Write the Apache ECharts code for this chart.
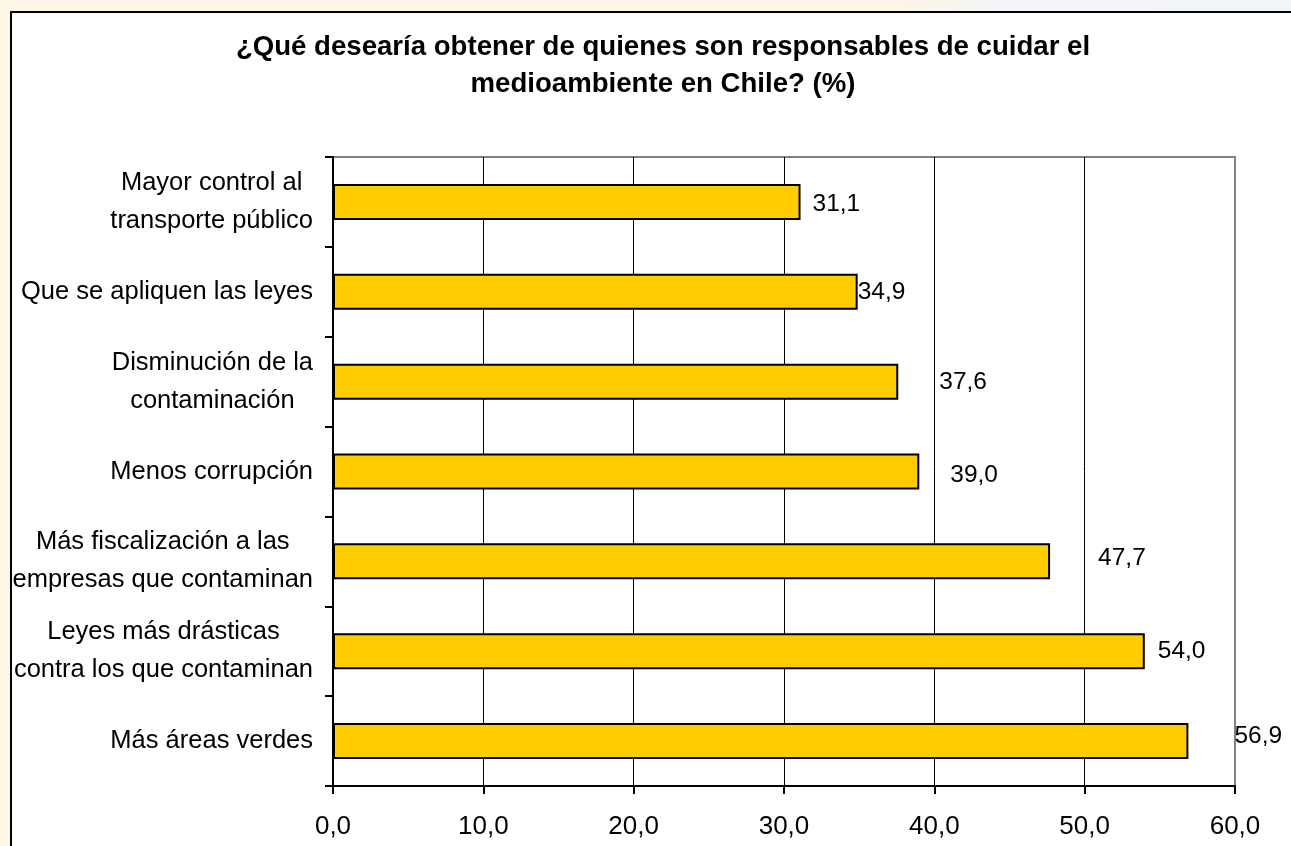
<!DOCTYPE html>
<html>
<head>
<meta charset="utf-8">
<title>Medioambiente Chile</title>
<script src="https://cdn.jsdelivr.net/npm/echarts@6/dist/echarts.min.js"></script>
<style>
  html, body { margin: 0; padding: 0; }
  #main { width: 1291px; height: 846px; }
</style>
</head>
<body>
<div id="main"></div>
<script>
// datos del gráfico
var categories = [
  "Mayor control al\ntransporte público",
  "Que se apliquen las leyes",
  "Disminución de la\ncontaminación",
  "Menos corrupción",
  "Más fiscalización a las\nempresas que contaminan",
  "Leyes más drásticas\ncontra los que contaminan",
  "Más áreas verdes"
];
var values = [31.1, 34.9, 37.6, 39.0, 47.7, 54.0, 56.9];
var xTicks = [0, 10, 20, 30, 40, 50, 60];

// desplazamiento de las etiquetas (como en el original, no son uniformes)
var labelNudge = [[12, 2], [0, 0], [41, 1], [31, 4], [48, -3], [13, 0], [46, -5]];

var font = "'Liberation Sans', Arial, sans-serif";

function coma(v) {
  return v.toFixed(1).replace(".", ",");
}

var chart = echarts.init(document.getElementById("main"));

var barData = values.map(function (v, i) {
  return {
    value: v,
    label: { offset: labelNudge[i] }
  };
});

var option = {
  backgroundColor: {
    type: "linear", x: 0, y: 0, x2: 1, y2: 0,
    colorStops: [
      { offset: 0, color: "#fdf5e6" },
      { offset: 0.7, color: "#fdf5e6" },
      { offset: 0.78, color: "#f3f5fa" },
      { offset: 1, color: "#f1f4f9" }
    ]
  },
  animation: false,
  graphic: [
    {
      type: "rect",
      z: -10,
      shape: { x: 11, y: 12, width: 1400, height: 900 },
      style: { fill: "#ffffff", stroke: "#000000", lineWidth: 2 }
    }
  ],
  title: {
    text: "¿Qué desearía obtener de quienes son responsables de cuidar el\nmedioambiente en Chile? (%)",
    left: 658,
    top: 24,
    textAlign: "center",
    textStyle: {
      fontFamily: font,
      fontSize: 27.6,
      fontWeight: "bold",
      color: "#000000",
      lineHeight: 37
    }
  },
  grid: {
    left: 333,
    top: 157,
    width: 902,
    height: 629,
    show: true,
    backgroundColor: "#ffffff",
    borderColor: "#808080",
    borderWidth: 2
  },
  xAxis: {
    type: "value",
    min: xTicks[0],
    max: xTicks[xTicks.length - 1],
    interval: 10,
    axisLine: { show: true, lineStyle: { color: "#000000", width: 2 } },
    axisTick: { show: true, length: 8, lineStyle: { color: "#000000", width: 2 } },
    axisLabel: {
      margin: 28,
      fontFamily: font,
      fontSize: 26,
      color: "#000000",
      formatter: function (v) { return coma(v); }
    },
    splitLine: {
      show: true,
      lineStyle: {
        color: ["#000000", "#000000", "#000000", "#000000", "#000000", "#000000", "#808080"],
        width: 1
      }
    }
  },
  yAxis: {
    type: "category",
    inverse: true,
    data: categories,
    axisLine: { show: true, lineStyle: { color: "#000000", width: 2 } },
    axisTick: { show: true, length: 8, lineStyle: { color: "#000000", width: 2 } },
    axisLabel: {
      margin: 20,
      fontFamily: font,
      fontSize: 25.5,
      color: "#000000",
      lineHeight: 38,
      formatter: function (v) {
        return v.split("\n").map(function (s) { return "{c|" + s + "}"; }).join("\n");
      },
      rich: {
        c: { align: "center", fontFamily: font, fontSize: 25.5, lineHeight: 38, color: "#000000" }
      }
    },
    splitLine: { show: false }
  },
  series: [
    {
      type: "bar",
      data: barData,
      barWidth: 36,
      itemStyle: { color: "#ffcc00", borderColor: "#000000", borderWidth: 2 },
      label: {
        show: true,
        position: "right",
        distance: 0,
        fontFamily: font,
        fontSize: 24.5,
        color: "#000000",
        formatter: function (p) { return coma(p.value); }
      }
    }
  ]
};

chart.setOption(option);
</script>
</body>
</html>
